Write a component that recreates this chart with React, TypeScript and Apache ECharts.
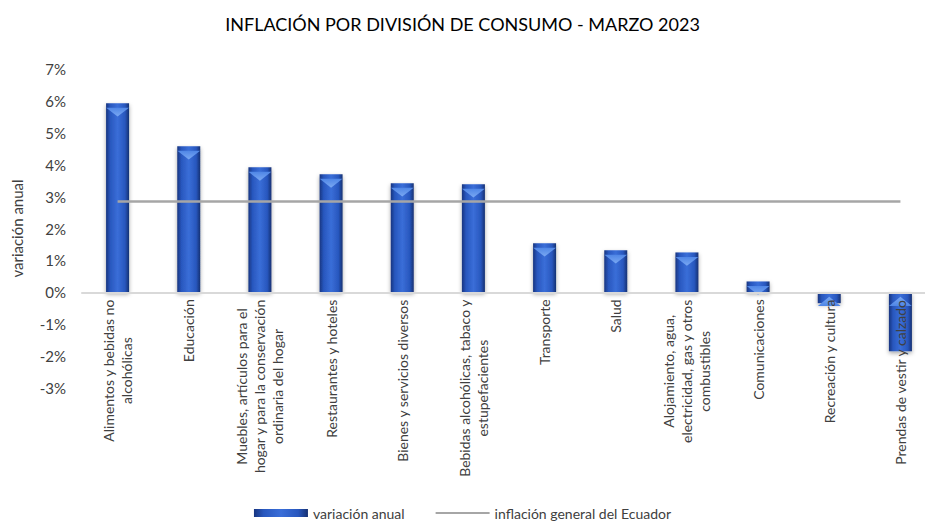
import React, { useEffect, useRef } from "react";
import * as echarts from "echarts";

const categories = [
  "Alimentos y bebidas no\nalcohólicas",
  "Educación",
  "Muebles, artículos para el\nhogar y para la conservación\nordinaria del hogar",
  "Restaurantes y hoteles",
  "Bienes y servicios diversos",
  "Bebidas alcohólicas, tabaco y\nestupefacientes",
  "Transporte",
  "Salud",
  "Alojamiento, agua,\nelectricidad, gas y otros\ncombustibles",
  "Comunicaciones",
  "Recreación y cultura",
  "Prendas de vestir y calzado",
];

const variacionAnual = [5.93, 4.58, 3.92, 3.7, 3.42, 3.39, 1.54, 1.32, 1.25, 0.34, -0.34, -1.85];
const inflacionGeneral = [2.85, 2.85, 2.85, 2.85, 2.85, 2.85, 2.85, 2.85, 2.85, 2.85, 2.85, 2.85];

const title = "INFLACIÓN POR DIVISIÓN DE CONSUMO - MARZO 2023";
const seriesNames = ["variación anual", "inflación general del Ecuador"];
const yAxisName = "variación anual";

const FONT = "Lato, 'Open Sans', sans-serif";

const GRID_TOP = 69;
const GRID_BOTTOM = 139;
const CHART_H = 527;
const Y_MIN = -3;
const Y_MAX = 7;

export default function App() {
  const ref = useRef<HTMLDivElement>(null);
  useEffect(() => {
    if (!ref.current) return;
    const chart = echarts.init(ref.current, null, { renderer: "svg" });
    const barGradient = new echarts.graphic.LinearGradient(0, 0, 1, 0, [
      { offset: 0, color: "#183580" },
      { offset: 0.18, color: "#2857be" },
      { offset: 0.5, color: "#3a6ed8" },
      { offset: 0.82, color: "#2857be" },
      { offset: 1, color: "#163172" },
    ]);
    const bevelGradient = new echarts.graphic.LinearGradient(0, 0, 0, 1, [
      { offset: 0, color: "#7aa8f2" },
      { offset: 1, color: "#4f86e6" },
    ]);
    // place the category axis on the zero line
    const plotH = CHART_H - GRID_TOP - GRID_BOTTOM;
    const zeroFromBottom = (plotH * (0 - Y_MIN)) / (Y_MAX - Y_MIN);
    chart.setOption({
      animation: false,
      backgroundColor: "#ffffff",
      title: {
        text: title,
        left: "center",
        top: 10,
        textStyle: { fontFamily: FONT, fontSize: 18, fontWeight: "normal", color: "#000000" },
      },
      legend: {
        bottom: 2,
        left: "center",
        itemWidth: 54,
        itemHeight: 8,
        itemGap: 30,
        textStyle: { fontFamily: FONT, fontSize: 14, color: "#404040" },
        data: [
          { name: seriesNames[0], icon: "rect" },
          { name: seriesNames[1], itemStyle: { opacity: 0 } },
        ],
      },
      grid: {
        left: 82,
        right: -11,
        top: GRID_TOP,
        bottom: GRID_BOTTOM,
        containLabel: false,
        outerBoundsMode: "none",
      },
      xAxis: {
        type: "category",
        data: categories,
        offset: -zeroFromBottom,
        axisLine: { show: true, onZero: false, lineStyle: { color: "#d9d9d9", width: 2 } },
        axisTick: { show: false },
        axisLabel: {
          interval: 0,
          rotate: 90,
          margin: 7,
          fontFamily: FONT,
          fontSize: 14,
          color: "#404040",
          lineHeight: 18,
          formatter: (v: string) =>
            v
              .split("\n")
              .map((l) => `{c|${l}}`)
              .join("\n"),
          rich: { c: { align: "center", fontFamily: FONT, fontSize: 14, color: "#404040", lineHeight: 18 } },
        },
        z: 5,
      },
      yAxis: {
        type: "value",
        min: Y_MIN,
        max: Y_MAX,
        interval: 1,
        name: yAxisName,
        nameLocation: "middle",
        nameGap: 58,
        nameRotate: 90,
        nameTextStyle: { fontFamily: FONT, fontSize: 15, color: "#404040" },
        axisLine: { show: false },
        axisTick: { show: false },
        splitLine: { show: false },
        axisLabel: {
          margin: 16,
          fontFamily: FONT,
          fontSize: 15,
          color: "#404040",
          formatter: (v: number) => `${v}%`,
        },
      },
      series: [
        {
          name: seriesNames[0],
          type: "bar",
          data: variacionAnual,
          barWidth: 23,
          itemStyle: {
            color: barGradient,
            shadowBlur: 4,
            shadowColor: "rgba(0,0,0,0.35)",
            shadowOffsetY: 2,
          },
          z: 2,
        },
        {
          name: "bevel",
          type: "pictorialBar",
          data: variacionAnual.map((v) => ({
            value: v,
            symbolPosition: v >= 0 ? "end" : "start",
          })),
          symbol: "triangle",
          symbolRotate: 180,
          symbolSize: [23, 9],
          symbolOffset: [0, "50%"],
          itemStyle: { color: bevelGradient },
          barGap: "-100%",
          z: 3,
          legendHoverLink: false,
          silent: true,
        },
        {
          name: seriesNames[1],
          type: "line",
          data: inflacionGeneral,
          symbol: "none",
          lineStyle: { color: "#a6a6a6", width: 2.5 },
          itemStyle: { color: "#a6a6a6" },
          z: 4,
        },
      ],
    });
    return () => chart.dispose();
  }, []);
  return <div ref={ref} style={{ width: 925, height: 527, position: "absolute", left: 0, top: 0 }} />;
}
